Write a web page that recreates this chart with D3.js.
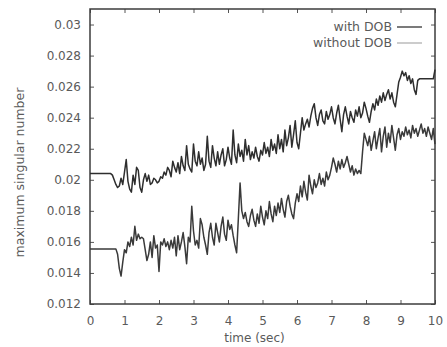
<!DOCTYPE html>
<html>
<head>
<meta charset="utf-8">
<script src="https://cdn.jsdelivr.net/npm/d3@7"></script>
<style>
  body { margin: 0; background: #fff; }
  svg text { font-family: "DejaVu Sans", sans-serif; fill: #5a5a5a; }
</style>
</head>
<body>
<div id="chart"></div>
<script>
// sample step of both series (sec)
var timeStep = 0.05;

// maximum singular number, with DOB (upper curve)
var withDOB = [
  0.0204,0.0204,0.0204,0.0204,0.0204,0.0204,0.0204,0.0204,0.0204,0.0204,
  0.0204,0.0204,0.0204,0.0203,0.0200,0.0197,0.0195,0.0196,0.0201,0.0197,
  0.0205,0.0213,0.0199,0.0194,0.0192,0.0203,0.0197,0.0208,0.0206,0.0195,
  0.0192,0.0200,0.0204,0.0199,0.0203,0.0197,0.0198,0.0201,0.0200,0.0198,
  0.0199,0.0202,0.0201,0.0205,0.0203,0.0208,0.0206,0.0202,0.0212,0.0208,
  0.0205,0.0211,0.0204,0.0215,0.0209,0.0206,0.0222,0.0210,0.0207,0.0205,
  0.0223,0.0212,0.0209,0.0218,0.0210,0.0214,0.0206,0.0210,0.0228,0.0212,
  0.0208,0.0222,0.0214,0.0209,0.0218,0.0210,0.0216,0.0220,0.0209,0.0213,
  0.0221,0.0214,0.0210,0.0232,0.0216,0.0211,0.0223,0.0215,0.0219,0.0212,
  0.0226,0.0216,0.0222,0.0213,0.0218,0.0214,0.0221,0.0215,0.0212,0.0219,
  0.0216,0.0224,0.0217,0.0221,0.0215,0.0226,0.0219,0.0223,0.0217,0.0229,
  0.0220,0.0226,0.0218,0.0232,0.0222,0.0227,0.0235,0.0221,0.0229,0.0238,
  0.0224,0.0220,0.0230,0.0240,0.0232,0.0236,0.0239,0.0234,0.0241,0.0246,
  0.0249,0.0240,0.0235,0.0242,0.0245,0.0238,0.0236,0.0244,0.0239,0.0242,
  0.0247,0.0240,0.0236,0.0243,0.0248,0.0239,0.0231,0.0242,0.0247,0.0241,
  0.0236,0.0244,0.0240,0.0237,0.0245,0.0241,0.0247,0.0240,0.0243,0.0250,
  0.0246,0.0241,0.0237,0.0244,0.0249,0.0245,0.0252,0.0248,0.0254,0.0250,
  0.0256,0.0251,0.0255,0.0258,0.0252,0.0256,0.0250,0.0247,0.0255,0.0263,
  0.0266,0.0270,0.0267,0.0269,0.0264,0.0267,0.0262,0.0265,0.0258,0.0255,
  0.0264,0.0265,0.0265,0.0265,0.0265,0.0265,0.0265,0.0265,0.0265,0.0265,
  0.0271
];

// maximum singular number, without DOB (lower curve)
var withoutDOB = [
  0.01555,0.01555,0.01555,0.01555,0.01555,0.01555,0.01555,0.01555,0.01555,0.01555,
  0.01555,0.01555,0.01555,0.01555,0.01555,0.01555,0.0152,0.0143,0.0138,0.0147,
  0.0155,0.0153,0.0160,0.0157,0.0163,0.0158,0.0170,0.0161,0.0165,0.0162,
  0.0163,0.0162,0.0155,0.0148,0.0152,0.0160,0.0150,0.0164,0.0156,0.0158,
  0.0141,0.0160,0.0158,0.0162,0.0157,0.0160,0.0155,0.0161,0.0156,0.0163,
  0.0151,0.0164,0.0155,0.0160,0.0166,0.0157,0.0146,0.0163,0.0160,0.0183,
  0.0167,0.0158,0.0161,0.0156,0.0175,0.0171,0.0163,0.0158,0.0152,0.0166,
  0.0172,0.0163,0.0158,0.0172,0.0166,0.0160,0.0170,0.0176,0.0165,0.0161,
  0.0174,0.0168,0.0171,0.0164,0.0158,0.0153,0.0175,0.0198,0.0180,0.0175,
  0.0179,0.0173,0.0170,0.0177,0.0181,0.0174,0.0170,0.0178,0.0172,0.0183,
  0.0176,0.0171,0.0180,0.0175,0.0186,0.0178,0.0173,0.0183,0.0177,0.0185,
  0.0179,0.0188,0.0181,0.0176,0.0186,0.0190,0.0183,0.0178,0.0175,0.0185,
  0.0191,0.0186,0.0196,0.0189,0.0199,0.0192,0.0187,0.0203,0.0196,0.0191,
  0.0200,0.0195,0.0198,0.0204,0.0197,0.0201,0.0196,0.0205,0.0200,0.0203,
  0.0208,0.0214,0.0210,0.0205,0.0212,0.0207,0.0213,0.0208,0.0211,0.0215,
  0.0210,0.0205,0.0209,0.0203,0.0207,0.0204,0.0206,0.0204,0.0218,0.0230,
  0.0226,0.0222,0.0228,0.0219,0.0225,0.0231,0.0220,0.0227,0.0233,0.0218,
  0.0228,0.0234,0.0221,0.0230,0.0224,0.0235,0.0227,0.0219,0.0229,0.0233,
  0.0226,0.0231,0.0228,0.0234,0.0229,0.0232,0.0227,0.0235,0.0230,0.0233,
  0.0228,0.0232,0.0236,0.0230,0.0233,0.0228,0.0234,0.0230,0.0226,0.0233,
  0.0223
];

var xTicks = [0, 1, 2, 3, 4, 5, 6, 7, 8, 9, 10];
var yTicks = [0.012, 0.014, 0.016, 0.018, 0.02, 0.022, 0.024, 0.026, 0.028, 0.03];
var yTickLabels = ["0.012", "0.014", "0.016", "0.018", "0.02", "0.022", "0.024", "0.026", "0.028", "0.03"];

var seriesNames = ["with DOB", "without DOB"];
var seriesColors = ["#2e2e2e", "#3a3a3a"];
var legendColors = ["#333", "#b0b0b0"];

var W = 447, H = 347;
var margin = { top: 9, right: 12, bottom: 43, left: 90 };
var width = W - margin.left - margin.right;
var height = H - margin.top - margin.bottom;

var svg = d3.select("#chart").append("svg")
    .attr("width", W)
    .attr("height", H)
    .append("g")
    .attr("transform", "translate(" + margin.left + "," + margin.top + ")");

var x = d3.scaleLinear().domain([0, 10]).range([0, width]);
var y = d3.scaleLinear().domain([0.012, 0.031]).range([height, 0]);

function styleAxis(g) {
    g.select(".domain").remove();
    g.selectAll(".tick line").attr("stroke", "#555").attr("stroke-width", 1);
    g.selectAll(".tick text").style("font-size", "12px").attr("fill", "#5a5a5a");
}

// axes with inward ticks, mirrored on top/right
svg.append("g")
    .attr("transform", "translate(0," + height + ")")
    .call(d3.axisBottom(x).tickValues(xTicks).tickSize(-4).tickPadding(12).tickFormat(d3.format("d")))
    .call(styleAxis);

svg.append("g")
    .call(d3.axisTop(x).tickValues(xTicks).tickSize(-4).tickFormat(""))
    .call(styleAxis);

svg.append("g")
    .call(d3.axisLeft(y).tickValues(yTicks).tickSize(-4).tickPadding(9)
        .tickFormat(function(d, i){ return yTickLabels[i]; }))
    .call(styleAxis);

svg.append("g")
    .attr("transform", "translate(" + width + ",0)")
    .call(d3.axisRight(y).tickValues(yTicks).tickSize(-4).tickFormat(""))
    .call(styleAxis);

// frame
svg.append("rect")
    .attr("width", width)
    .attr("height", height)
    .attr("fill", "none")
    .attr("stroke", "#3c3c3c")
    .attr("stroke-width", 1.5);

var line = d3.line()
    .x(function(d, i){ return x(i * timeStep); })
    .y(function(d){ return y(d); });

[withDOB, withoutDOB].forEach(function(s, k){
    svg.append("path")
        .datum(s)
        .attr("fill", "none")
        .attr("stroke", seriesColors[k])
        .attr("stroke-width", 1.5)
        .attr("stroke-linejoin", "round")
        .attr("d", line);
});

// legend
var legend = svg.append("g").attr("transform", "translate(" + (width - 40) + ",18)");
seriesNames.forEach(function(name, k){
    legend.append("text")
        .attr("x", -3)
        .attr("y", k * 16 + 4)
        .attr("text-anchor", "end")
        .style("font-size", "12.5px")
        .text(name);
    legend.append("line")
        .attr("x1", 2).attr("x2", 27)
        .attr("y1", k * 16).attr("y2", k * 16)
        .attr("stroke", legendColors[k])
        .attr("stroke-width", 1.3);
});

// axis titles
svg.append("text")
    .attr("x", width / 2 - 8)
    .attr("y", height + 38)
    .attr("text-anchor", "middle")
    .style("font-size", "12px")
    .text("time (sec)");

svg.append("text")
    .attr("transform", "translate(" + (-66) + "," + (height / 2 + 16) + ") rotate(-90)")
    .attr("text-anchor", "middle")
    .style("font-size", "12.5px")
    .text("maximum singular number");
</script>
</body>
</html>
